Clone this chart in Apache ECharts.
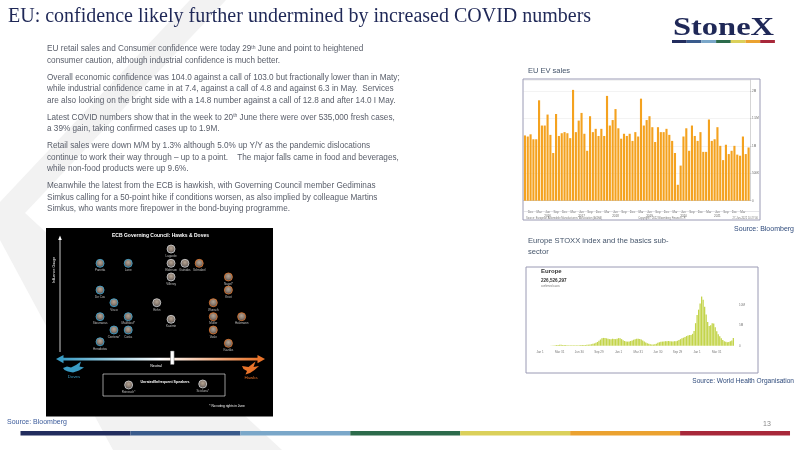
<!DOCTYPE html>
<html><head><meta charset="utf-8">
<script src="https://cdn.jsdelivr.net/npm/echarts@6/dist/echarts.min.js"></script>
<style>html,body{margin:0;padding:0;background:#fff}#c{width:800px;height:450px}</style>
</head><body><div id="c"></div><script>
// ---------- DATA ----------
const titleText = 'EU: confidence likely further undermined by increased COVID numbers';
const bodyLines = [
  'EU retail sales and Consumer confidence were today 29{sup|th} June and point to heightened',
  'consumer caution, although industrial confidence is much better.',
  'Overall economic confidence was 104.0 against a call of 103.0 but fractionally lower than in Maty;',
  'while industrial confidence came in at 7.4, against a call of 4.8 and against 6.3 in May.  Services',
  'are also looking on the bright side with a 14.8 number against a call of 12.8 and after 14.0 I May.',
  'Latest COVID numbers show that in the week to 20{sup|th} June there were over 535,000 fresh cases,',
  'a 39% gain, taking confirmed cases up to 1.9M.',
  'Retail sales were down M/M by 1.3% although 5.0% up Y/Y as the pandemic dislocations',
  'continue to work their way through \u2013 up to a point.    The major falls came in food and beverages,',
  'while non-food products were up 9.6%.',
  'Meanwhile the latest from the ECB is hawkish, with Governing Council member Gediminas',
  'Simkus calling for a 50-point hike if conditions worsen, as also implied by colleague Martins',
  'Simkus, who wants more firepower in the bond-buying programme.'
];
const bodyLineY = [49, 60.5, 77.5, 89, 100.5, 117.5, 129, 146, 157.5, 169, 186, 197.5, 209];

// EU EV sales, monthly Oct 2015 .. May 2022 (millions)
const evSales = [1.19,1.17,1.21,1.12,1.12,1.83,1.37,1.37,1.57,1.20,
  0.87,1.58,1.18,1.23,1.25,1.23,1.14,2.02,1.25,1.46,
  1.60,1.22,0.91,1.54,1.25,1.31,1.18,1.31,1.18,1.91,
  1.37,1.47,1.67,1.32,1.13,1.22,1.18,1.22,1.09,1.25,
  1.17,1.86,1.37,1.47,1.54,1.34,1.07,1.34,1.25,1.25,
  1.31,1.20,1.09,0.87,0.29,0.64,1.17,1.32,0.91,1.37,
  1.18,1.09,1.25,0.89,0.89,1.48,1.09,1.12,1.34,1.00,
  0.74,1.02,0.85,0.91,1.00,0.84,0.82,1.17,0.85,0.97];
const evTicks = ['0', '500K', '1M', '1.5M', '2M'];
const monthNames = ['Jan','Feb','Mar','Apr','May','Jun','Jul','Aug','Sep','Oct','Nov','Dec'];

// Europe weekly confirmed cases, from week of Jan 1 2020 (millions)
const covidWeekly = [0,0,0,0,0,0,0.01,0.02,0.05,0.05,
  0.1,0.15,0.2,0.22,0.22,0.2,0.18,0.16,0.14,0.12,
  0.12,0.11,0.11,0.12,0.12,0.13,0.14,0.15,0.16,0.18,
  0.2,0.22,0.25,0.3,0.35,0.45,0.55,0.7,0.9,1.2,
  1.5,1.8,1.9,1.9,1.8,1.7,1.6,1.6,1.7,1.65,
  1.6,1.7,1.85,1.8,1.6,1.35,1.15,1.05,1.0,1.05,
  1.15,1.3,1.45,1.6,1.7,1.7,1.65,1.5,1.3,1.05,
  0.8,0.6,0.45,0.35,0.3,0.3,0.35,0.5,0.7,0.85,
  0.95,1.0,1.05,1.1,1.1,1.15,1.1,1.05,1.05,1.1,
  1.1,1.2,1.4,1.6,1.8,1.95,2.1,2.35,2.5,2.6,
  2.6,2.9,3.6,5.5,7.5,8.8,10.3,12.0,11.2,9.5,
  7.6,5.8,4.8,5.0,5.5,5.4,4.5,3.5,2.8,2.3,
  1.8,1.4,1.1,0.95,0.85,0.9,1.1,1.3,1.9];
const covidTickLabels = ['Jan 1','Mar 31','Jun 30','Sep 29','Jan 1','Mar 31','Jun 30','Sep 29','Jan 1','Mar 31'];
const covidYTicks = ['0', '5M', '10M'];

// ECB Governing Council: stance (0 dove .. 100 hawk) and influence (0..100)
const ecbNames = ['Lagarde','Panetta','Lane','Elderson','Guindos','Schnabel','Villeroy','Nagel*','Knot','De Cos',
  'Visco','Rehn','Wunsch','Stournaras','Makhlouf*','Kazimir','M\u00fcller','Holzmann','Centeno*','Costa','Vasle','Herodotou','Kaz\u0101ks'];
const ecbStance = [55.1,20.8,34.4,55.1,61.8,68.7,55.1,82.8,82.8,20.8,
  27.5,48.2,75.5,20.8,34.4,55.1,75.5,89.2,27.5,34.4,75.5,20.8,82.8];
const ecbInfluence = [91.8,78.8,78.8,78.8,78.8,78.8,66.4,66.4,54.5,54.5,
  43,43,43,30.3,30.3,27.9,30.3,30.3,18.2,18.2,18.2,7.5,6.1];
const unratedNames = ['Reinesch*', 'Scicluna*'];
const unratedStance = [34.6, 70.4];
const unratedInfluence = [-31.8, -30.9];

const footerColors = ['#222d5e','#3a5b8c','#7aa7c9','#2c6b4b','#dbd05a','#eba230','#a8283a'];

// ---------- BUILD ----------
const evMonths = [];
for (let i = 0; i < evSales.length; i++) {
  const k = 9 + i;
  evMonths.push(monthNames[k % 12] + ' ' + (2015 + Math.floor(k / 12)));
}
const covidWeeks = covidWeekly.map((_, i) => 'W' + i);

const sans = 'Liberation Sans, Arial, sans-serif';
const serif = 'Liberation Serif, Times New Roman, serif';

const g = [];
// watermark chevron
g.push({type:'polygon', z:0, shape:{points:[[190,0],[226,0],[25,213],[282,450],[113,450],[0,240],[0,202]]}, style:{fill:'#f2f2f2'}});
// title
g.push({type:'text', z:10, style:{text:titleText, x:8, y:17, font:'20px ' + serif, fill:'#1f2857', textVerticalAlign:'middle'}});
// logo
g.push({type:'text', z:10, x:723.5, y:28, scaleX:1.25, style:{text:'StoneX', x:0, y:0, font:'bold 26px ' + serif, fill:'#1f2857', textAlign:'center', textVerticalAlign:'middle'}});
footerColors.forEach((c, i) => {
  g.push({type:'rect', z:10, shape:{x:672 + i * 14.7, y:40, width:14.7, height:3}, style:{fill:c}});
  g.push({type:'rect', z:10, shape:{x:20.5 + i * 109.93, y:431, width:109.93, height:4.5}, style:{fill:c}});
});
// body text
bodyLines.forEach((t, i) => {
  g.push({type:'text', z:10, style:{text:t, x:47, y:bodyLineY[i], fontSize:8.2, fontFamily:sans, fill:'#595e6a', textVerticalAlign:'middle',
    rich:{sup:{fontSize:5, fontFamily:sans, fill:'#595e6a', verticalAlign:'top'}}}});
});
// right side labels
g.push({type:'text', z:10, style:{text:'EU EV sales', x:528, y:71, fontSize:7.5, fontFamily:sans, fill:'#44546a', textVerticalAlign:'middle'}});
g.push({type:'text', z:10, style:{text:'Source: Bloomberg', x:794, y:229, fontSize:7, fontFamily:sans, fill:'#2f4b7c', textAlign:'right', textVerticalAlign:'middle'}});
g.push({type:'text', z:10, style:{text:'Europe STOXX index and the basics sub-', x:528, y:241, fontSize:7.6, fontFamily:sans, fill:'#44546a', textVerticalAlign:'middle'}});
g.push({type:'text', z:10, style:{text:'sector', x:528, y:251.5, fontSize:7.6, fontFamily:sans, fill:'#44546a', textVerticalAlign:'middle'}});
g.push({type:'text', z:10, style:{text:'Source: World Health Organisation', x:794, y:381, fontSize:6.6, fontFamily:sans, fill:'#2f4b7c', textAlign:'right', textVerticalAlign:'middle'}});
g.push({type:'text', z:10, style:{text:'Source: Bloomberg', x:7, y:422, fontSize:7, fontFamily:sans, fill:'#3a5a9a', textVerticalAlign:'middle'}});
g.push({type:'text', z:10, style:{text:'13', x:763, y:424.5, fontSize:7, fontFamily:sans, fill:'#888', textVerticalAlign:'middle'}});
// EV chart frame
g.push({type:'rect', z:10, shape:{x:523, y:79, width:237, height:141}, style:{fill:'none', stroke:'#9a9ab4', lineWidth:1}});
g.push({type:'line', z:10, shape:{x1:523, y1:211.5, x2:760, y2:211.5}, style:{stroke:'#c8c8d0', lineWidth:0.5}});
g.push({type:'text', z:10, style:{text:'Source: European Automobile Manufacturers\' Association (ACEA)', x:526, y:218.3, fontSize:2.6, fontFamily:sans, fill:'#777', textVerticalAlign:'middle'}});
g.push({type:'text', z:10, style:{text:'Copyright\u00a9 2022 Bloomberg Finance L.P.', x:662, y:218.3, fontSize:2.6, fontFamily:sans, fill:'#777', textAlign:'center', textVerticalAlign:'middle'}});
g.push({type:'text', z:10, style:{text:'27-Jun-2022 10:27:00', x:758, y:218.3, fontSize:2.6, fontFamily:sans, fill:'#777', textAlign:'right', textVerticalAlign:'middle'}});
// COVID chart frame
g.push({type:'rect', z:10, shape:{x:526, y:267, width:232, height:106}, style:{fill:'none', stroke:'#9a9ab4', lineWidth:1}});
g.push({type:'text', z:10, style:{text:'Europe', x:541, y:271, font:'bold 6px ' + sans, fill:'#333', textVerticalAlign:'middle'}});
g.push({type:'text', z:10, style:{text:'226,526,297', x:541, y:281, font:'bold 4.6px ' + sans, fill:'#333', textVerticalAlign:'middle'}});
g.push({type:'text', z:10, style:{text:'confirmed cases', x:541, y:286.5, fontSize:2.6, fontFamily:sans, fill:'#777', textVerticalAlign:'middle'}});
// ECB panel
g.push({type:'rect', z:1, shape:{x:46, y:228, width:227, height:188.5}, style:{fill:'#000'}});
g.push({type:'text', z:5, style:{text:'ECB Governing Council: Hawks & Doves', x:160.5, y:235.7, font:'bold 5px ' + sans, fill:'#fff', textAlign:'center', textVerticalAlign:'middle'}});
g.push({type:'line', z:5, shape:{x1:60, y1:239, x2:60, y2:352}, style:{stroke:'#fff', lineWidth:0.8}});
g.push({type:'polygon', z:5, shape:{points:[[58.2,240],[60,235.5],[61.8,240]]}, style:{fill:'#fff'}});
g.push({type:'text', z:5, x:53.5, y:270, rotation:Math.PI / 2, style:{text:'Influence Gauge', x:0, y:0, fontSize:3.6, fontFamily:sans, fill:'#fff', textAlign:'center', textVerticalAlign:'middle'}});
g.push({type:'rect', z:5, shape:{x:62, y:357.8, width:197, height:2.6}, style:{fill:{type:'linear', x:0, y:0, x2:1, y2:0, colorStops:[{offset:0, color:'#3a9cc4'},{offset:0.5, color:'#ffffff'},{offset:1, color:'#e8732a'}]}}});
g.push({type:'polygon', z:5, shape:{points:[[56,359.1],[63.5,355],[63.5,363.2]]}, style:{fill:'#3a9cc4'}});
g.push({type:'polygon', z:5, shape:{points:[[265,359.1],[257.5,355],[257.5,363.2]]}, style:{fill:'#e8732a'}});
g.push({type:'rect', z:6, shape:{x:170.5, y:351, width:3.6, height:13.5, r:0.6}, style:{fill:'#fff', stroke:'#777', lineWidth:0.5}});
g.push({type:'text', z:5, style:{text:'Neutral', x:156, y:366, fontSize:3.6, fontFamily:sans, fill:'#fff', textAlign:'center', textVerticalAlign:'middle'}});
g.push({type:'polygon', z:5, shape:{points:[[63,368],[67,366.5],[71,367.5],[76,365],[81,361.5],[79.5,366.5],[84,367.5],[79,370.5],[73,372.5],[68,371.5],[64.5,370]]}, style:{fill:'#3a9cc4'}});
g.push({type:'text', z:5, style:{text:'Doves', x:74, y:377, fontSize:4.4, fontFamily:sans, fill:'#3a9cc4', textAlign:'center', textVerticalAlign:'middle'}});
g.push({type:'polygon', z:5, shape:{points:[[242,366],[248.5,367],[255.5,361.5],[253.5,367],[259,366],[254.5,370],[250,373],[245.5,374.5],[247,371],[243.5,369]]}, style:{fill:'#e8732a'}});
g.push({type:'text', z:5, style:{text:'Hawks', x:251, y:378, fontSize:4.4, fontFamily:sans, fill:'#e8732a', textAlign:'center', textVerticalAlign:'middle'}});
g.push({type:'rect', z:5, shape:{x:103, y:374, width:122, height:22}, style:{fill:'none', stroke:'#d8d8d8', lineWidth:0.7}});
g.push({type:'text', z:5, style:{text:'Unrated/Infrequent Speakers', x:165, y:381.5, font:'bold 3.6px ' + sans, fill:'#fff', textAlign:'center', textVerticalAlign:'middle'}});
g.push({type:'text', z:5, style:{text:'* No voting rights in June', x:227, y:405.7, fontSize:3.2, fontFamily:sans, fill:'#fff', textAlign:'center', textVerticalAlign:'middle'}});

function ringColor(s) { return s < 42 ? '#3fa9d6' : (s < 64 ? '#d8d8d8' : '#e8782a'); }
const face = {type:'radial', x:0.5, y:0.4, r:0.6, colorStops:[{offset:0, color:'#e0ccb8'},{offset:0.55, color:'#a8978a'},{offset:1, color:'#3e4552'}]};
const ecbData = ecbNames.map((n, i) => ({name:n, value:[ecbStance[i], ecbInfluence[i]], itemStyle:{borderColor:ringColor(ecbStance[i])}}));
const unratedData = unratedNames.map((n, i) => ({name:n, value:[unratedStance[i], unratedInfluence[i]], itemStyle:{borderColor:'#d8d8d8'}}));

const lastEv = evSales.length - 1;
const option = {
  animation:false,
  backgroundColor:'#ffffff',
  textStyle:{fontFamily:sans},
  grid:[
    {left:523.5, width:226.5, top:80, height:120.7, outerBoundsMode:'none'},
    {left:539.3, width:194.8, top:294.5, height:51.2, outerBoundsMode:'none'},
    {left:57, width:207, top:240, height:176, outerBoundsMode:'none'}
  ],
  xAxis:[
    {type:'category', gridIndex:0, data:evMonths, axisTick:{show:false},
      axisLine:{lineStyle:{color:'#aaa', width:0.5}},
      axisLabel:{fontSize:3, color:'#666', margin:10, lineHeight:3.4,
        interval:(idx) => idx % 3 === 2 || idx === lastEv,
        formatter:(v, idx) => { const p = v.split(' '); return (p[0] === 'Jun' || idx === lastEv) ? p[0] + '\n' + p[1] : p[0]; }}},
    {type:'category', gridIndex:1, data:covidWeeks, axisTick:{show:false}, axisLine:{show:false},
      axisLabel:{fontSize:3, color:'#777', margin:5, interval:(idx) => idx % 13 === 0,
        formatter:(v, idx) => covidTickLabels[Math.round(idx / 13)] || ''}},
    {type:'value', gridIndex:2, min:0, max:100, show:false}
  ],
  yAxis:[
    {type:'value', gridIndex:0, position:'right', min:0, max:2.2, interval:0.5,
      axisLine:{show:true, lineStyle:{color:'#aaa', width:0.5}}, axisTick:{show:true, length:1.5, lineStyle:{color:'#aaa', width:0.5}},
      splitLine:{lineStyle:{color:'#e6e6e6', width:0.5}},
      axisLabel:{fontSize:3, color:'#666', margin:2, showMaxLabel:false, formatter:(v) => evTicks[Math.round(v / 0.5)] || ''}},
    {type:'value', gridIndex:1, position:'right', min:0, max:12.5, interval:5,
      axisLine:{show:false}, axisTick:{show:false}, splitLine:{show:false},
      axisLabel:{fontSize:3, color:'#777', margin:5, showMaxLabel:false, formatter:(v) => covidYTicks[Math.round(v / 5)] || ''}},
    {type:'value', gridIndex:2, min:-60, max:100, show:false}
  ],
  series:[
    {type:'bar', name:'EV', xAxisIndex:0, yAxisIndex:0, data:evSales, barCategoryGap:'25%', color:'#f4a21f', itemStyle:{color:'#f4a21f'}},
    {type:'bar', name:'Cases', xAxisIndex:1, yAxisIndex:1, data:covidWeekly, barCategoryGap:'15%', color:'#c3d44a', itemStyle:{color:'#c3d44a', borderWidth:0}},
    {type:'scatter', xAxisIndex:2, yAxisIndex:2, z:3, data:ecbData, symbolSize:8,
      itemStyle:{color:face, borderWidth:1}, label:{show:true, position:'bottom', distance:1, fontSize:3, color:'#e0e0e0', formatter:'{b}'}},
    {type:'scatter', xAxisIndex:2, yAxisIndex:2, z:3, data:unratedData, symbolSize:8,
      itemStyle:{color:face, borderWidth:1}, label:{show:true, position:'bottom', distance:1, fontSize:3, color:'#e0e0e0', formatter:'{b}'}}
  ],
  graphic:{elements:g}
};
const chart = echarts.init(document.getElementById('c'));
chart.setOption(option);
</script></body></html>
